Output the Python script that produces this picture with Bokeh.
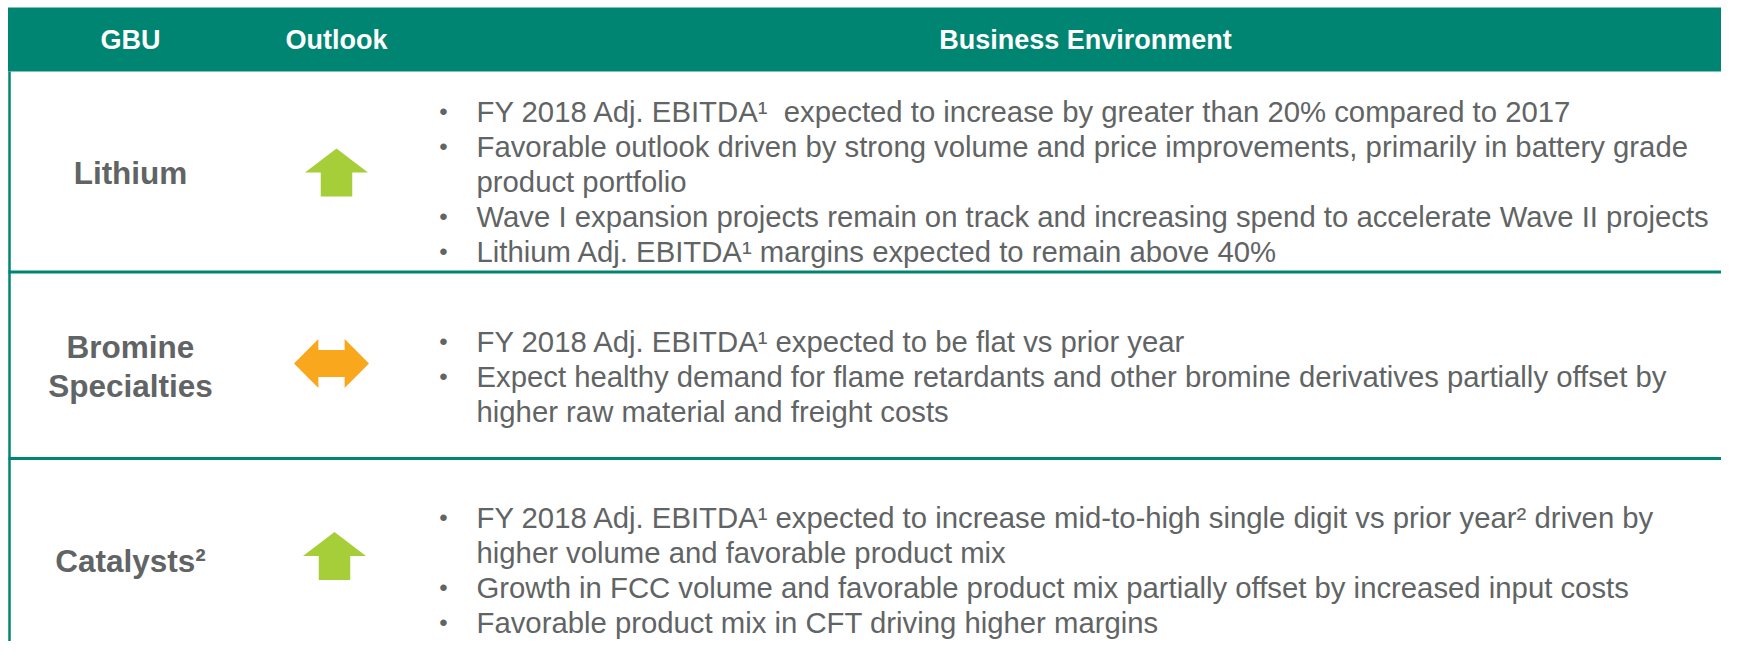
from bokeh.plotting import figure
from bokeh.models import Range1d
from bokeh.core.properties import value
from bokeh.embed import file_html
from bokeh.resources import INLINE

# ---------------- data ----------------
headers = ["GBU", "Outlook", "Business Environment"]
gbu_names = [["Lithium"], ["Bromine", "Specialties"], ["Catalysts²"]]
outlooks = ["up", "flat", "up"]
bullets = [
    [["FY 2018 Adj. EBITDA¹\u00a0 expected to increase by greater than 20% compared to 2017"],
     ["Favorable outlook driven by strong volume and price improvements, primarily in battery grade",
      "product portfolio"],
     ["Wave I expansion projects remain on track and increasing spend to accelerate Wave II projects"],
     ["Lithium Adj. EBITDA¹ margins expected to remain above 40%"]],
    [["FY 2018 Adj. EBITDA¹ expected to be flat vs prior year"],
     ["Expect healthy demand for flame retardants and other bromine derivatives partially offset by",
      "higher raw material and freight costs"]],
    [["FY 2018 Adj. EBITDA¹ expected to increase mid-to-high single digit vs prior year² driven by",
      "higher volume and favorable product mix"],
     ["Growth in FCC volume and favorable product mix partially offset by increased input costs"],
     ["Favorable product mix in CFT driving higher margins"]],
]

# ---------------- layout / style ----------------
W, H = 1721, 641
TEAL = "#008573"
GREY = "#616464"
GREEN = "#A6CE39"
ORANGE = "#F9A81D"
FONT = value("Liberation Sans")

header_top, header_bot = 7, 71
row_bounds = [71, 271.5, 458, 680]
col_x = [130, 336, 1085]
bullet_x, text_x = 443, 476
first_baseline = [111, 341, 517]
line_step = 35
label_cy = [172, 366, 560]
label_gap = 39
arrow_cx = [336, 331, 334]
arrow_cy = [172, 363, 555.5]

p = figure(width=W, height=H, x_range=Range1d(0, W), y_range=Range1d(H, 0),
           output_backend="svg", toolbar_location=None,
           x_axis_location=None, y_axis_location=None, min_border=0)
p.grid.visible = False
p.outline_line_color = None
p.background_fill_color = "white"
p.border_fill_color = "white"

# header band
p.quad(left=[7.5], right=[W + 5], top=[header_top], bottom=[header_bot],
       fill_color=TEAL, line_color=None)
p.text(x=col_x, y=[(header_top + header_bot) / 2] * 3, text=headers,
       text_font=FONT, text_font_style="bold", text_font_size="27px",
       text_color="white", text_align="center", text_baseline="middle")

# row separators and left border
p.segment(x0=[8] * 2, x1=[W + 5] * 2, y0=row_bounds[1:3], y1=row_bounds[1:3],
          line_color=TEAL, line_width=3)
p.segment(x0=[9], x1=[9], y0=[header_bot], y1=[row_bounds[-1]], line_color=TEAL, line_width=2.5)

# GBU labels
lx, ly, lt = [], [], []
for i, names in enumerate(gbu_names):
    n = len(names)
    for j, nm in enumerate(names):
        lx.append(col_x[0])
        ly.append(label_cy[i] + (j - (n - 1) / 2) * label_gap)
        lt.append(nm)
p.text(x=lx, y=ly, text=lt, text_font=FONT, text_font_style="bold", text_font_size="31.5px",
       text_color=GREY, text_align="center", text_baseline="middle")


# outlook arrows
def up_arrow(cx, cy, w=63, h=48):
    t, b = cy - h / 2, cy + h / 2
    sw = w * 0.25
    return ([cx, cx + w / 2, cx + sw, cx + sw, cx - sw, cx - sw, cx - w / 2],
            [t, cy, cy, b, b, cy, cy])


def flat_arrow(cx, cy, w=75, h=49):
    l, r = cx - w / 2, cx + w / 2
    hw = w * 0.325
    sh = h * 0.275
    return ([l, l + hw, l + hw, r - hw, r - hw, r, r - hw, r - hw, l + hw, l + hw],
            [cy, cy - h / 2, cy - sh, cy - sh, cy - h / 2, cy, cy + h / 2, cy + sh, cy + sh, cy + h / 2])


axs, ays, acol = [], [], []
for i, o in enumerate(outlooks):
    if o == "up":
        xs, ys = up_arrow(arrow_cx[i], arrow_cy[i])
        acol.append(GREEN)
    else:
        xs, ys = flat_arrow(arrow_cx[i], arrow_cy[i])
        acol.append(ORANGE)
    axs.append(xs)
    ays.append(ys)
p.patches(xs=axs, ys=ays, fill_color=acol, line_color=None)

# bullet text
bx, by, tx, ty, tt = [], [], [], [], []
for i, row in enumerate(bullets):
    y = first_baseline[i]
    for item in row:
        bx.append(bullet_x)
        by.append(y)
        for line in item:
            tx.append(text_x)
            ty.append(y)
            tt.append(line)
            y += line_step
p.text(x=bx, y=by, text=["•"] * len(bx), text_font=FONT, text_font_size="24px",
       text_color=GREY, text_align="center", text_baseline="alphabetic")
p.text(x=tx, y=ty, text=tt, text_font=FONT, text_font_size="29.3px",
       text_color=GREY, text_align="left", text_baseline="alphabetic")

open("out.html", "w").write(file_html(p, INLINE))
